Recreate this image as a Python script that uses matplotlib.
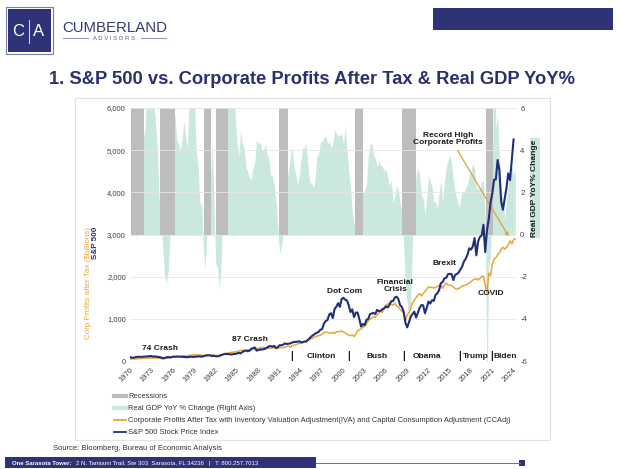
import numpy as np
import matplotlib.pyplot as plt
from matplotlib.patches import Rectangle
from matplotlib.lines import Line2D

plt.rcParams['font.family'] = ['Liberation Sans', 'DejaVu Sans']

W, H = 621, 469

NAVY = '#2e3277'
SPX_COL = '#1f2f78'
ORANGE = '#e9a634'
TEAL = '#cbe8dd'
REC_GRAY = '#bdbdbf'
TXT = '#404040'

# ---- data ----
# Real GDP YoY %, quarterly from 1970 Q1
gdp_yoy = [
    0.6, 0.1, 0.1, -0.2,   2.8, 3.1, 3.3, 4.5,   5.0, 6.5, 5.9, 6.8,
    7.6, 6.3, 5.3, 4.1,    1.7, 0.9, -0.5, -1.9, -2.3, -1.9, -0.4, 2.6,
    6.2, 5.6, 4.5, 4.3,    4.0, 4.5, 5.4, 4.6,   4.1, 6.6, 5.9, 6.7,
    6.3, 3.9, 3.3, 1.5,    1.4, -0.8, -1.6, 0.0, 1.3, 2.7, 4.4, 1.3,
    -1.4, -1.6, -2.6, -1.4, 1.6, 3.4, 5.6, 7.8,  8.7, 8.5, 7.4, 5.6,
    4.3, 3.7, 4.9, 4.3,    4.1, 3.2, 3.0, 2.7,   2.6, 3.2, 3.4, 4.5,
    4.3, 4.4, 4.0, 4.0,    4.3, 3.8, 3.6, 2.8,   2.8, 2.3, 1.5, 0.3,
    -0.9, -0.6, 0.0, 1.1,  2.6, 3.0, 3.6, 4.2,   3.3, 2.9, 2.4, 2.7,
    3.5, 4.1, 4.1, 4.3,    3.3, 2.4, 2.5, 2.2,   2.6, 3.7, 3.8, 4.4,
    4.4, 4.6, 4.7, 4.3,    4.4, 4.1, 4.3, 5.0,   4.8, 4.7, 4.7, 4.8,
    4.3, 5.1, 4.1, 3.0,    2.3, 1.0, 0.5, 0.3,   1.1, 1.7, 2.1, 2.0,
    2.1, 2.4, 3.7, 4.3,    4.3, 3.8, 3.6, 3.2,   3.5, 3.3, 3.2, 3.0,
    3.1, 2.8, 2.3, 2.6,    1.5, 1.8, 2.3, 2.1,   1.5, 1.0, -0.5, -2.5,
    -3.3, -3.9, -3.3, -0.1, 1.6, 2.8, 3.2, 2.8,  1.9, 1.7, 1.0, 1.7,
    2.8, 2.5, 2.3, 1.5,    1.6, 1.2, 2.0, 2.6,   1.5, 2.5, 3.2, 3.5,
    3.8, 3.4, 2.6, 2.0,    1.7, 1.3, 1.6, 2.1,   2.0, 2.2, 2.4, 2.8,
    3.0, 3.4, 3.1, 2.2,    2.2, 2.1, 2.5, 2.6,   0.6, -7.5, -1.5, -1.1,
    1.6, 12.2, 5.0, 5.7,   3.6, 2.0, 1.7, 0.7,   1.7, 2.4, 3.2, 3.2,
    2.9, 3.0,
]

# S&P 500 index, quarterly from 1970 Q1
spx = [
    89.6, 72.7, 84.2, 92.2,     100.3, 99.7, 98.3, 102.1,   107.2, 107.1, 110.6, 118.1,
    111.5, 104.3, 108.4, 97.6,  93.9, 86.0, 63.5, 68.6,     83.4, 95.2, 83.9, 90.2,
    102.8, 104.3, 105.2, 107.5, 98.4, 100.5, 96.5, 95.1,    89.2, 95.5, 102.5, 96.1,
    101.6, 102.9, 109.3, 107.9, 102.1, 114.2, 125.5, 135.8, 136.0, 131.2, 116.2, 122.6,
    112.0, 109.6, 120.4, 140.6, 153.0, 168.1, 166.1, 164.9, 159.2, 153.2, 166.1, 167.2,
    180.7, 191.9, 182.1, 211.3, 238.9, 250.8, 231.3, 242.2, 291.7, 304.0, 321.8, 247.1,
    258.9, 273.5, 271.9, 277.7, 294.9, 318.0, 349.2, 353.4, 339.9, 358.0, 306.1, 330.2,
    375.2, 371.2, 387.9, 417.1, 403.7, 408.1, 417.8, 435.7, 451.7, 450.5, 458.9, 466.5,
    445.8, 444.3, 462.7, 459.3, 500.7, 544.8, 584.4, 615.9, 645.5, 670.6, 687.3, 740.7,
    757.1, 885.1, 947.3, 970.4, 1101.8, 1133.8, 1017.0, 1229.2, 1286.4, 1372.7, 1282.7, 1469.3,
    1498.6, 1454.6, 1436.5, 1320.3, 1160.3, 1224.4, 1040.9, 1148.1, 1147.4, 989.8, 815.3, 879.8,
    848.2, 974.5, 996.0, 1111.9, 1126.2, 1140.8, 1114.6, 1211.9, 1180.6, 1191.3, 1228.8, 1248.3,
    1294.8, 1270.2, 1335.8, 1418.3, 1420.9, 1503.3, 1526.8, 1468.4, 1322.7, 1280.0, 1166.4, 903.3,
    797.9, 919.3, 1057.1, 1115.1, 1169.4, 1030.7, 1141.2, 1257.6, 1325.8, 1320.6, 1131.4, 1257.6,
    1408.5, 1362.2, 1440.7, 1426.2, 1569.2, 1606.3, 1681.6, 1848.4, 1872.3, 1960.2, 1972.3, 2058.9,
    2067.9, 2063.1, 1920.0, 2043.9, 2059.7, 2098.9, 2168.3, 2238.8, 2362.7, 2423.4, 2519.4, 2673.6,
    2640.9, 2718.4, 2914.0, 2506.9, 2834.4, 2941.8, 2976.7, 3230.8, 2584.6, 3100.3, 3363.0, 3756.1,
    3972.9, 4297.5, 4307.5, 4766.2, 4530.4, 3785.4, 3585.6, 3839.5, 4109.3, 4450.4, 4288.1, 4769.8,
    5254.4,
]

# Corporate profits after tax w/ IVA & CCAdj ($bn), quarterly from 1970 Q1
profits = [
    52, 50, 51, 48,      55, 57, 59, 62,      64, 66, 69, 73,
    75, 74, 72, 70,      68, 62, 58, 60,      66, 74, 84, 88,
    92, 95, 96, 98,      105, 115, 122, 120,  120, 135, 140, 145,
    148, 145, 143, 140,  138, 125, 132, 130,  140, 138, 145, 140,
    128, 130, 132, 135,  150, 170, 180, 185,  200, 205, 210, 215,
    220, 235, 255, 250,  245, 250, 260, 265,  265, 275, 290, 295,
    300, 310, 315, 325,  310, 300, 305, 300,  310, 315, 300, 295,
    310, 320, 315, 325,  345, 350, 330, 365,  370, 385, 400, 420,
    415, 440, 460, 475,  490, 505, 530, 545,  575, 590, 600, 610,
    640, 665, 690, 680,  665, 660, 680, 650,  690, 700, 695, 715,
    690, 670, 640, 610,  600, 620, 580, 640,  720, 740, 760, 800,
    830, 880, 950, 990,  1020, 1050, 1040, 1100, 1130, 1180, 1150, 1250,
    1330, 1350, 1380, 1340, 1320, 1370, 1300, 1280, 1220, 1180, 1150, 950,
    1100, 1150, 1250, 1380, 1450, 1500, 1560, 1600, 1540, 1600, 1650, 1700,
    1760, 1740, 1750, 1730, 1740, 1770, 1800, 1790, 1720, 1800, 1850, 1800,
    1800, 1790, 1760, 1720, 1700, 1720, 1740, 1780, 1790, 1800, 1830, 1850,
    1880, 1920, 1940, 1950, 1920, 1960, 2000, 2010, 1800, 1620, 2080, 2020,
    2300, 2420, 2450, 2520, 2560, 2650, 2700, 2650, 2700, 2760, 2850, 2780,
    2880, 2900,
]

rec_start = [1970.1, 1974.2, 1980.4, 1982.1, 1991.0, 2001.7, 2008.4, 2020.2]
rec_end = [1972.0, 1976.3, 1981.4, 1983.8, 1992.3, 2002.9, 2010.4, 2021.2]

year_ticks = list(range(1970, 2025, 3))

pres_marks = [1992.8, 2000.9, 2008.6, 2016.5, 2021.05]
pres_names = ['Clinton', 'Bush', 'Obama', 'Trump', 'Biden']
pres_pos = [1997.0, 2004.8, 2011.9, 2018.7, 2022.9]

events = ['74 Crash', '87 Crash', 'Dot Com', 'Financial\nCrisis', 'Brexit', 'COVID']
event_x = [1974.3, 1986.9, 2000.2, 2007.4, 2014.4, 2020.9]
event_y = [300, 500, 1640, 1770, 2320, 1590]


def fpos(x, y):
    return x / W, 1 - y / H


fig = plt.figure(figsize=(W / 100, H / 100), dpi=100)

# ---- header ----
fig.add_artist(Rectangle(fpos(6, 54), 47 / W, 47 / H, transform=fig.transFigure,
                         facecolor='white', edgecolor='#7a7ca6', lw=0.8))
fig.add_artist(Rectangle(fpos(8, 52), 43 / W, 43 / H, transform=fig.transFigure,
                         facecolor=NAVY, edgecolor='none'))
fig.text(*fpos(18.5, 31), 'C', color='white', fontsize=12, ha='center', va='center')
fig.text(*fpos(39, 31), 'A', color='white', fontsize=12, ha='center', va='center')
fig.add_artist(Line2D([29 / W, 29 / W], [1 - 20 / H, 1 - 43 / H], transform=fig.transFigure,
                      color='white', lw=0.6))
fig.text(*fpos(114.5, 28), 'CUMBERLAND', color='#363a73', fontsize=10.8,
         ha='center', va='center')
fig.text(*fpos(114.5, 38.5), 'A D V I S O R S', color='#555a88', fontsize=4.3,
         ha='center', va='center')
for a, b in [(63, 88), (141, 166)]:
    fig.add_artist(Line2D([a / W, b / W], [1 - 38.5 / H] * 2, transform=fig.transFigure,
                          color='#7a7ca6', lw=0.6))
fig.add_artist(Rectangle(fpos(433, 30), 180 / W, 22 / H, transform=fig.transFigure,
                         facecolor=NAVY, edgecolor='none'))

fig.text(*fpos(312, 80), '1. S&P 500 vs. Corporate Profits After Tax & Real GDP YoY%',
         color='#2b2f6e', fontsize=13.2, fontweight='bold', ha='center', va='center')

# chart frame
fig.add_artist(Rectangle(fpos(75, 440), 475 / W, 342 / H, transform=fig.transFigure,
                         facecolor='none', edgecolor='#e2e2e2', lw=0.8))

# ---- chart ----
x0, x1, y0, y1 = 130, 516, 108, 361
ax = fig.add_axes([x0 / W, 1 - y1 / H, (x1 - x0) / W, (y1 - y0) / H])
ax2 = ax.twinx()
ax.set_zorder(ax2.get_zorder() + 1)
ax.patch.set_visible(False)

gdp_x = 1970.1 + 0.25 * np.arange(len(gdp_yoy))
spx_x = 1970.1 + 0.25 * np.arange(len(spx))
prof_x = 1970.1 + 0.25 * np.arange(len(profits))

ax2.fill_between(gdp_x, 0, gdp_yoy, color=TEAL, lw=0, zorder=1)
ax2.bar(rec_start, 6, width=np.array(rec_end) - np.array(rec_start), bottom=0,
        align='edge', color=REC_GRAY, lw=0, zorder=2)
ax2.set_ylim(-6, 6)
ax2.set_yticks(range(-6, 7, 2))
ax2.set_yticklabels([str(v) for v in range(-6, 7, 2)])

ax.plot(prof_x, profits, color=ORANGE, lw=1.1, zorder=3)
ax.plot(spx_x, spx, color=SPX_COL, lw=1.5, zorder=4)
ax.set_ylim(0, 6000)
ax.set_xlim(1970, 1970 + (x1 - x0) / 7.09)
ax.set_yticks(range(0, 6001, 1000))
ax.set_yticklabels([f'{v:,}' for v in range(0, 6001, 1000)])
ax.yaxis.grid(True, color='#e6e6e6', lw=0.6)
ax.set_axisbelow(True)

ax.set_xticks(year_ticks)
ax.set_xticklabels([str(y) for y in year_ticks], rotation=45, ha='right',
                   rotation_mode='anchor')

for a in (ax, ax2):
    for s in a.spines.values():
        s.set_visible(False)
    a.tick_params(length=0, labelsize=5.5, labelcolor=TXT)
ax.tick_params(axis='y', pad=3)
ax.tick_params(axis='x', pad=4)
ax2.tick_params(axis='y', pad=3)

# annotations
for name, ex, ey in zip(events, event_x, event_y):
    ax.text(ex, ey, name, fontsize=6, fontweight='bold', ha='center', va='center',
            color='#1a1a1a', linespacing=0.95, zorder=5)
for px in pres_marks:
    ax.text(px, 110, '|', fontsize=7, fontweight='bold', ha='center', va='center',
            color='#1a1a1a')
for name, px in zip(pres_names, pres_pos):
    ax.text(px, 100, name, fontsize=6, fontweight='bold', ha='center', va='center',
            color='#1a1a1a')

ax.annotate('', xy=(2023.6, 2900), xytext=(2016.0, 5050),
            arrowprops=dict(arrowstyle='-|>', color='#d6a43e', lw=0.9, mutation_scale=5))
ax.text(2014.85, 5265, 'Record High\nCorporate Profits', fontsize=6, fontweight='bold',
        ha='center', va='center', color='#1a1a1a', linespacing=0.95)

# axis labels
fig.text(*fpos(89, 227), 'Corp Profits after Tax ($billions)', color=ORANGE, fontsize=5.8,
         rotation=90, ha='center', va='top')
fig.text(*fpos(95.5, 227), 'S&P 500', color=SPX_COL, fontsize=5.8, fontweight='bold',
         rotation=90, ha='center', va='top')
fig.text(*fpos(535, 188), 'Real GDP YoY% Change', color='#1a1a1a', fontsize=6,
         fontweight='bold', rotation=90, ha='center', va='center',
         bbox=dict(facecolor=TEAL, edgecolor='none', pad=1.0))

# legend
handles = [
    Line2D([], [], color=REC_GRAY, lw=3),
    Line2D([], [], color=TEAL, lw=3),
    Line2D([], [], color=ORANGE, lw=1.3),
    Line2D([], [], color=SPX_COL, lw=1.3),
]
labels = [
    'Recessions',
    'Real GDP YoY % Change (Right Axis)',
    'Corporate Profits After Tax with Inventory Valuation Adjustment(IVA) and Capital Consumption Adjustment (CCAdj)',
    'S&P 500 Stock Price Index',
]
fig.legend(handles, labels, loc='upper left', bbox_to_anchor=fpos(114, 393),
           frameon=False, fontsize=5.45, handlelength=1.6, handletextpad=0.3,
           labelspacing=0.62, borderpad=0, borderaxespad=0, labelcolor='#333333')

# footer
fig.text(*fpos(53, 448), 'Source: Bloomberg, Bureau of Economic Analysis', fontsize=5.5,
         color='#333333', ha='left', va='center')
fig.add_artist(Rectangle(fpos(5, 468), 311 / W, 11 / H, transform=fig.transFigure,
                         facecolor=NAVY, edgecolor='none'))
fig.text(*fpos(12, 463), 'One Sarasota Tower:', fontsize=4.3, fontweight='bold',
         color='white', ha='left', va='center')
fig.text(*fpos(76, 463), '2 N. Tamiami Trail, Ste 303  Sarasota, FL 34236   |   T: 800.257.7013',
         fontsize=4.3, color='white', ha='left', va='center')
fig.add_artist(Line2D([316 / W, 520 / W], [1 - 463 / H] * 2, transform=fig.transFigure,
                      color='#6b6e99', lw=0.7))
fig.add_artist(Rectangle(fpos(519, 466), 6 / W, 6 / H, transform=fig.transFigure,
                         facecolor=NAVY, edgecolor='none'))

fig.savefig('out.png', dpi=100)
